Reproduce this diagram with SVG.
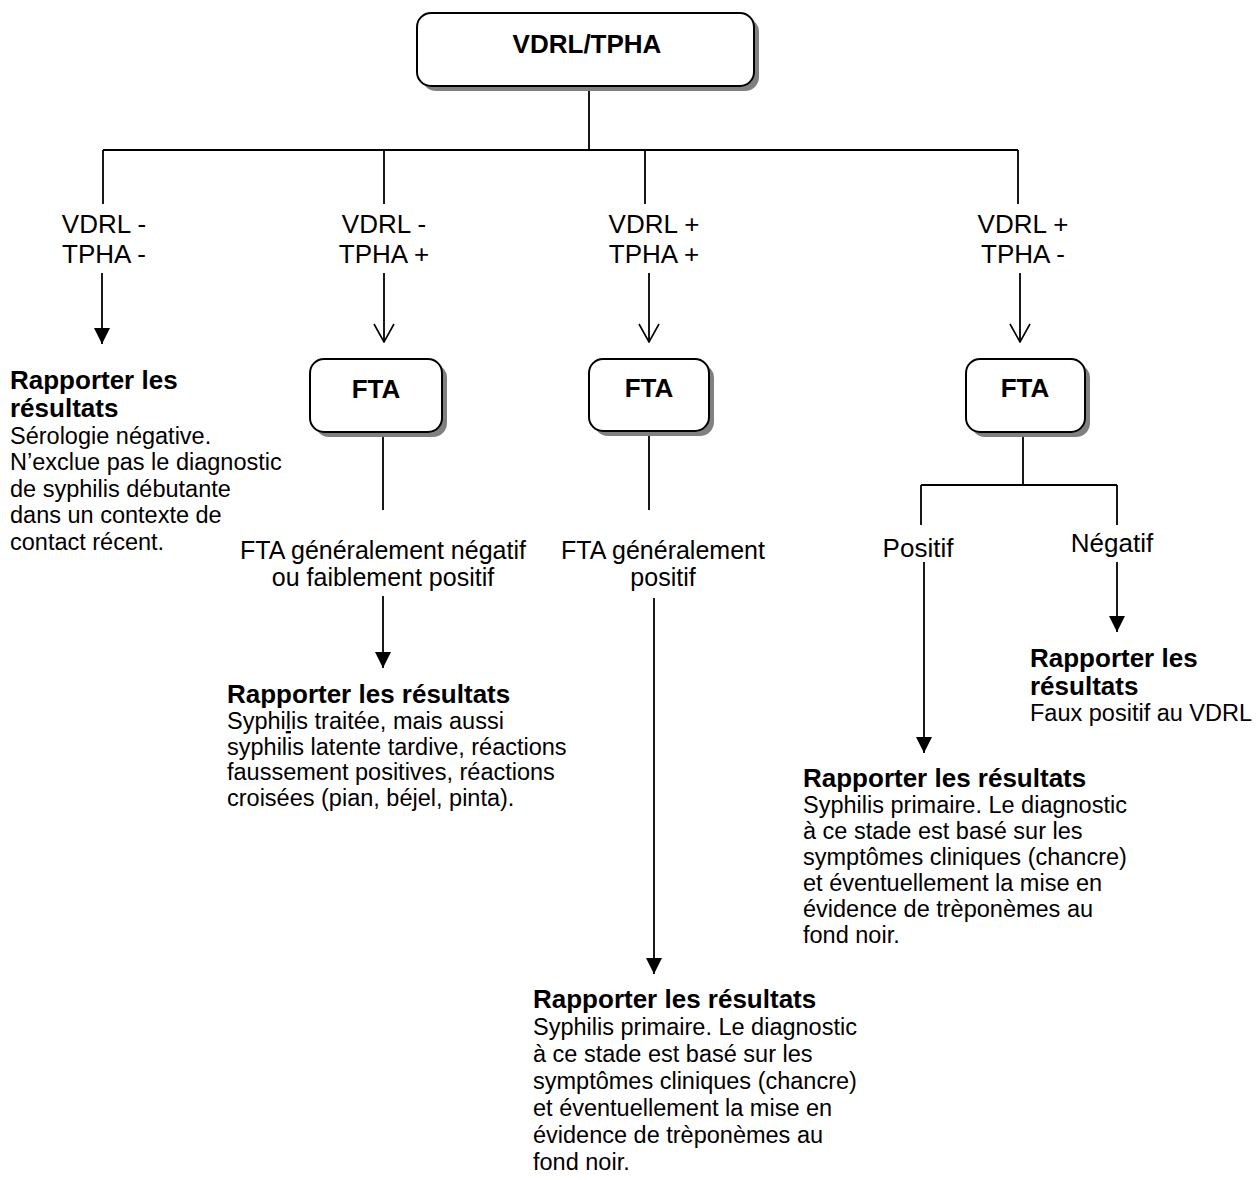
<svg xmlns="http://www.w3.org/2000/svg" width="1256" height="1180" viewBox="0 0 1256 1180">
<defs>
<style>
text{font-family:"Liberation Sans",Arial,sans-serif;fill:#000}
.t{font-size:26px;font-weight:bold}
.lb{font-size:26px;text-anchor:middle}
.lm{font-size:25px;text-anchor:middle}
.b{font-size:26px;font-weight:bold}
.r{font-size:23.5px}
.box{fill:#fff;stroke:#000;stroke-width:2}
.sh{fill:#808080}
.ln{fill:none;stroke:#000;stroke-width:1.8}
</style>
<marker id="af" viewBox="0 0 16 16" markerWidth="16" markerHeight="16" refX="16" refY="8" orient="auto" markerUnits="userSpaceOnUse"><path d="M0,0 L16,8 L0,16 z" fill="#000"/></marker>
<marker id="ao" viewBox="0 0 20 22" markerWidth="20" markerHeight="22" refX="19" refY="11" orient="auto" markerUnits="userSpaceOnUse"><path d="M1,1 L19,11 L1,21" fill="none" stroke="#000" stroke-width="1.6"/></marker>
</defs>
<rect width="1256" height="1180" fill="#fff"/>

<g id="connectors">
<path class="ln" d="M589,86 V150 M103,150 H1018 M103,150 V204 M384,150 V204 M645,150 V204 M1018,150 V204"/>
<line class="ln" x1="102" y1="273" x2="102" y2="344" marker-end="url(#af)"/>
<line class="ln" x1="384" y1="273" x2="384" y2="342" marker-end="url(#ao)"/>
<line class="ln" x1="649" y1="273" x2="649" y2="342" marker-end="url(#ao)"/>
<line class="ln" x1="1020" y1="273" x2="1020" y2="342" marker-end="url(#ao)"/>
<path class="ln" d="M383,432 V510 M649,431 V510 M1023,432 V485 M921,485 H1117 M921,485 V525 M1117,485 V525"/>
<line class="ln" x1="383" y1="596" x2="383" y2="668" marker-end="url(#af)"/>
<line class="ln" x1="654" y1="598" x2="654" y2="974" marker-end="url(#af)"/>
<line class="ln" x1="1117" y1="562" x2="1117" y2="632" marker-end="url(#af)"/>
<line class="ln" x1="924" y1="562" x2="924" y2="753" marker-end="url(#af)"/>
</g>

<g id="n-top">
<rect class="sh" x="422" y="18" width="337" height="73" rx="14"/>
<rect class="box" x="417" y="13" width="337" height="73" rx="14"/>
<text class="t" x="587" y="53" text-anchor="middle">VDRL/TPHA</text>
</g>

<g id="l1"><text class="lb" x="104" y="233">VDRL -</text><text class="lb" x="104" y="263">TPHA -</text></g>
<g id="l2"><text class="lb" x="384" y="233">VDRL -</text><text class="lb" x="384" y="263">TPHA +</text></g>
<g id="l3"><text class="lb" x="654" y="233">VDRL +</text><text class="lb" x="654" y="263">TPHA +</text></g>
<g id="l4"><text class="lb" x="1023" y="233">VDRL +</text><text class="lb" x="1023" y="263">TPHA -</text></g>

<g id="fta1">
<rect class="sh" x="315" y="364" width="132" height="73" rx="14"/>
<rect class="box" x="310" y="359" width="132" height="73" rx="14"/>
<text class="t" x="376" y="398" text-anchor="middle">FTA</text>
</g>
<g id="fta2">
<rect class="sh" x="594" y="364" width="120" height="72" rx="14"/>
<rect class="box" x="589" y="359" width="120" height="72" rx="14"/>
<text class="t" x="649" y="397" text-anchor="middle">FTA</text>
</g>
<g id="fta3">
<rect class="sh" x="971" y="364" width="119" height="73" rx="14"/>
<rect class="box" x="966" y="359" width="119" height="73" rx="14"/>
<text class="t" x="1025" y="397" text-anchor="middle">FTA</text>
</g>

<g id="res1">
<text class="b" x="10" y="389">Rapporter les</text>
<text class="b" x="10" y="417">résultats</text>
<text class="r" x="10" y="443.5">Sérologie négative.</text>
<text class="r" x="10" y="470">N’exclue pas le diagnostic</text>
<text class="r" x="10" y="496.5">de syphilis débutante</text>
<text class="r" x="10" y="523">dans un contexte de</text>
<text class="r" x="10" y="549.5">contact récent.</text>
</g>

<g id="m1"><text class="lm" x="383" y="559">FTA généralement négatif</text><text class="lm" x="383" y="586">ou faiblement positif</text></g>
<g id="m2"><text class="lm" x="663" y="559">FTA généralement</text><text class="lm" x="663" y="586">positif</text></g>
<g id="pos"><text class="lb" x="918" y="557">Positif</text></g>
<g id="neg"><text class="lb" x="1112" y="552">Négatif</text></g>

<g id="res2">
<text class="b" x="227" y="703">Rapporter les résultats</text>
<text class="r" x="227" y="729">Syphi<tspan text-decoration="underline">l</tspan>is traitée, mais aussi</text>
<text class="r" x="227" y="754.5">syphilis latente tardive, réactions</text>
<text class="r" x="227" y="780">faussement positives, réactions</text>
<text class="r" x="227" y="805.5">croisées (pian, béjel, pinta).</text>
</g>

<g id="res3">
<text class="b" x="1030" y="667">Rapporter les</text>
<text class="b" x="1030" y="695">résultats</text>
<text class="r" x="1030" y="721">Faux positif au VDRL</text>
</g>

<g id="res4">
<text class="b" x="803" y="787">Rapporter les résultats</text>
<text class="r" x="803" y="813">Syphilis primaire. Le diagnostic</text>
<text class="r" x="803" y="839">à ce stade est basé sur les</text>
<text class="r" x="803" y="865">symptômes cliniques (chancre)</text>
<text class="r" x="803" y="891">et éventuellement la mise en</text>
<text class="r" x="803" y="917">évidence de trèponèmes au</text>
<text class="r" x="803" y="943">fond noir.</text>
</g>

<g id="res5">
<text class="b" x="533" y="1008">Rapporter les résultats</text>
<text class="r" x="533" y="1035">Syphilis primaire. Le diagnostic</text>
<text class="r" x="533" y="1062">à ce stade est basé sur les</text>
<text class="r" x="533" y="1089">symptômes cliniques (chancre)</text>
<text class="r" x="533" y="1116">et éventuellement la mise en</text>
<text class="r" x="533" y="1143">évidence de trèponèmes au</text>
<text class="r" x="533" y="1170">fond noir.</text>
</g>
</svg>
